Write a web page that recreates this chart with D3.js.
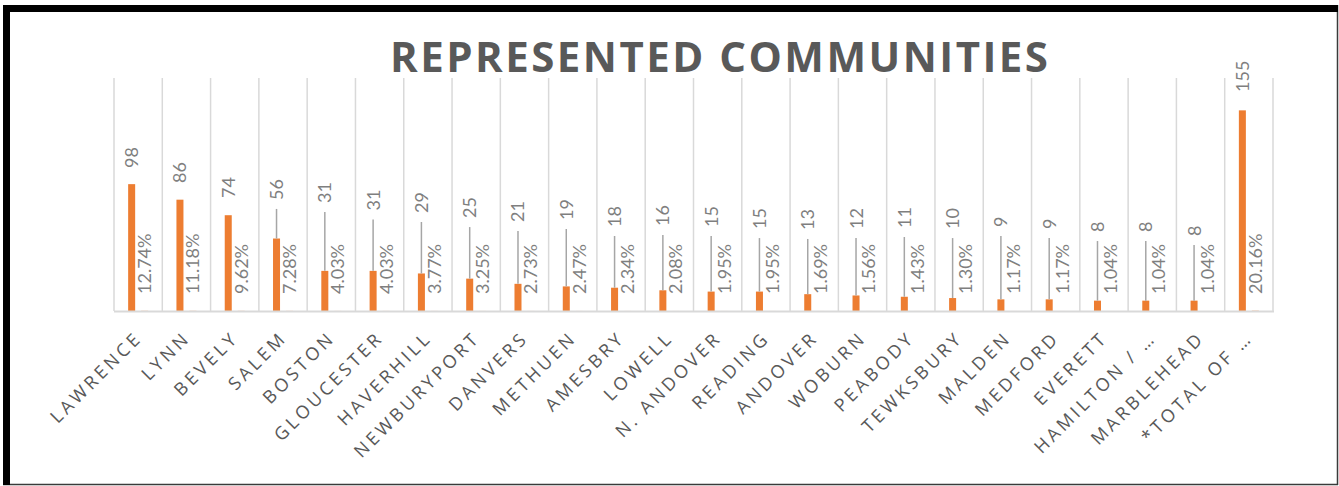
<!DOCTYPE html>
<html>
<head>
<meta charset="utf-8">
<script src="https://cdn.jsdelivr.net/npm/d3@7"></script>
<style>
  html, body { margin: 0; padding: 0; background: #ffffff; }
  svg { display: block; }
</style>
</head>
<body>
<svg id="chart" width="1339" height="486"></svg>
<script>
// ---------------- data ----------------
const categories = ["LAWRENCE","LYNN","BEVELY","SALEM","BOSTON","GLOUCESTER","HAVERHILL","NEWBURYPORT","DANVERS","METHUEN","AMESBRY","LOWELL","N. ANDOVER","READING","ANDOVER","WOBURN","PEABODY","TEWKSBURY","MALDEN","MEDFORD","EVERETT","HAMILTON / …","MARBLEHEAD","*TOTAL OF …"];
const counts = [98,86,74,56,31,31,29,25,21,19,18,16,15,15,13,12,11,10,9,9,8,8,8,155];
const percents = [12.74,11.18,9.62,7.28,4.03,4.03,3.77,3.25,2.73,2.47,2.34,2.08,1.95,1.95,1.69,1.56,1.43,1.30,1.17,1.17,1.04,1.04,1.04,20.16];
// where each count label sits on the value axis (labels were dragged in the original)
const countLabelAt = [110.5,98.9,87.3,85.8,83.4,77.7,75.7,71.8,68.8,70.3,64.9,65.7,64.9,63.3,62.6,63.3,64.1,63.3,64.9,63.3,61.0,61.0,57.9,169.2];
const valueMax = 180;
const title = "REPRESENTED COMMUNITIES";
const seriesNames = ["Count","Percent"];

// ---------------- layout ----------------
const svg = d3.select("#chart");
const plot = { left: 114, right: 1273, top: 78, bottom: 311 };

// frame
svg.append("rect").attr("x", 0).attr("y", 0).attr("width", 1339).attr("height", 486).attr("fill", "#ffffff");
// thin right / bottom edges
svg.append("line").attr("x1", 1337.5).attr("x2", 1337.5).attr("y1", 5).attr("y2", 485).attr("stroke", "#3a3a3a").attr("stroke-width", 1.5);
svg.append("line").attr("x1", 3).attr("x2", 1338).attr("y1", 484.5).attr("y2", 484.5).attr("stroke", "#3a3a3a").attr("stroke-width", 1.5);
// thick top / left edges
svg.append("rect").attr("x", 3).attr("y", 5).attr("width", 1335).attr("height", 7).attr("fill", "#000");
svg.append("rect").attr("x", 3).attr("y", 5).attr("width", 7).attr("height", 480).attr("fill", "#000");

const x = d3.scaleBand().domain(categories).range([plot.left, plot.right]).paddingInner(0).paddingOuter(0);
const xs = d3.scaleBand().domain(seriesNames).range([0, x.bandwidth()]).paddingInner(0.46).paddingOuter(1.09);
const y = d3.scaleLinear().domain([0, valueMax]).range([plot.bottom, plot.top]);

// gridlines at category boundaries
const bounds = categories.map(c => x(c)).concat([plot.right]);
svg.append("g").selectAll("line").data(bounds).join("line")
  .attr("x1", d => d).attr("x2", d => d)
  .attr("y1", y(valueMax)).attr("y2", y(0))
  .attr("stroke", "#d9d9d9").attr("stroke-width", 1.5);

// bars (count)
svg.append("g").selectAll("rect").data(categories).join("rect")
  .attr("x", (c) => x(c) + xs("Count"))
  .attr("width", xs.bandwidth())
  .attr("y", (c, i) => y(counts[i]))
  .attr("height", (c, i) => y(0) - y(counts[i]))
  .attr("fill", "#ED7D31");

// bars (percent, tiny)
svg.append("g").selectAll("rect").data(categories).join("rect")
  .attr("x", (c) => x(c) + xs("Percent"))
  .attr("width", xs.bandwidth())
  .attr("y", (c, i) => y(percents[i] / 100))
  .attr("height", (c, i) => y(0) - y(percents[i] / 100))
  .attr("fill", "#ED7D31");

// baseline axis
svg.append("line").attr("x1", plot.left).attr("x2", plot.right + 1)
  .attr("y1", y(0) + 0.5).attr("y2", y(0) + 0.5)
  .attr("stroke", "#d9d9d9").attr("stroke-width", 2);

// leader lines
const leaders = svg.append("g");
categories.forEach((c, i) => {
  const cx = x(c) + xs("Count") + xs.bandwidth() / 2;
  const labelBottom = y(countLabelAt[i]);
  const barTop = y(counts[i]);
  if (barTop - labelBottom > 22) {
    leaders.append("line")
      .attr("x1", cx).attr("x2", cx)
      .attr("y1", labelBottom + 9).attr("y2", barTop)
      .attr("stroke", "#a6a6a6").attr("stroke-width", 1.5);
  }
});

// count labels
const labelFont = "Lato, 'Open Sans', sans-serif";
svg.append("g").selectAll("text").data(categories).join("text")
  .attr("transform", (c, i) => `translate(${x(c) + xs("Count") + xs.bandwidth() / 2},${y(countLabelAt[i])}) rotate(-90)`)
  .attr("dy", "0.36em")
  .attr("text-anchor", "start")
  .attr("font-family", labelFont).attr("font-size", 18)
  .attr("fill", "#7f7f7f")
  .text((c, i) => counts[i]);

// percent labels
svg.append("g").selectAll("text").data(categories).join("text")
  .attr("transform", (c, i) => `translate(${x(c) + xs("Percent") + xs.bandwidth() / 2},${y(0) - 17}) rotate(-90)`)
  .attr("dy", "0.36em")
  .attr("text-anchor", "start")
  .attr("font-family", labelFont).attr("font-size", 18)
  .attr("fill", "#7f7f7f")
  .text((c, i) => percents[i].toFixed(2) + "%");

// category labels
svg.append("g").selectAll("text").data(categories).join("text")
  .attr("transform", c => `translate(${x(c) + x.bandwidth() / 2 + 5},${y(0) + 28}) rotate(-45)`)
  .attr("text-anchor", "end")
  .attr("font-family", "'Open Sans', sans-serif").attr("font-size", 18)
  .attr("letter-spacing", 3.4)
  .attr("fill", "#595959")
  .text(c => c);

// title
const t = svg.append("text")
  .attr("x", 390).attr("y", 72)
  .attr("font-family", "'Open Sans', sans-serif").attr("font-weight", 700)
  .attr("font-size", 42)
  .attr("fill", "#595959")
  .text(title);
const natural = t.node().getComputedTextLength();
const targetW = 658;
const ls = (targetW - natural) / (title.length - 1);
t.attr("letter-spacing", ls);
</script>
</body>
</html>
